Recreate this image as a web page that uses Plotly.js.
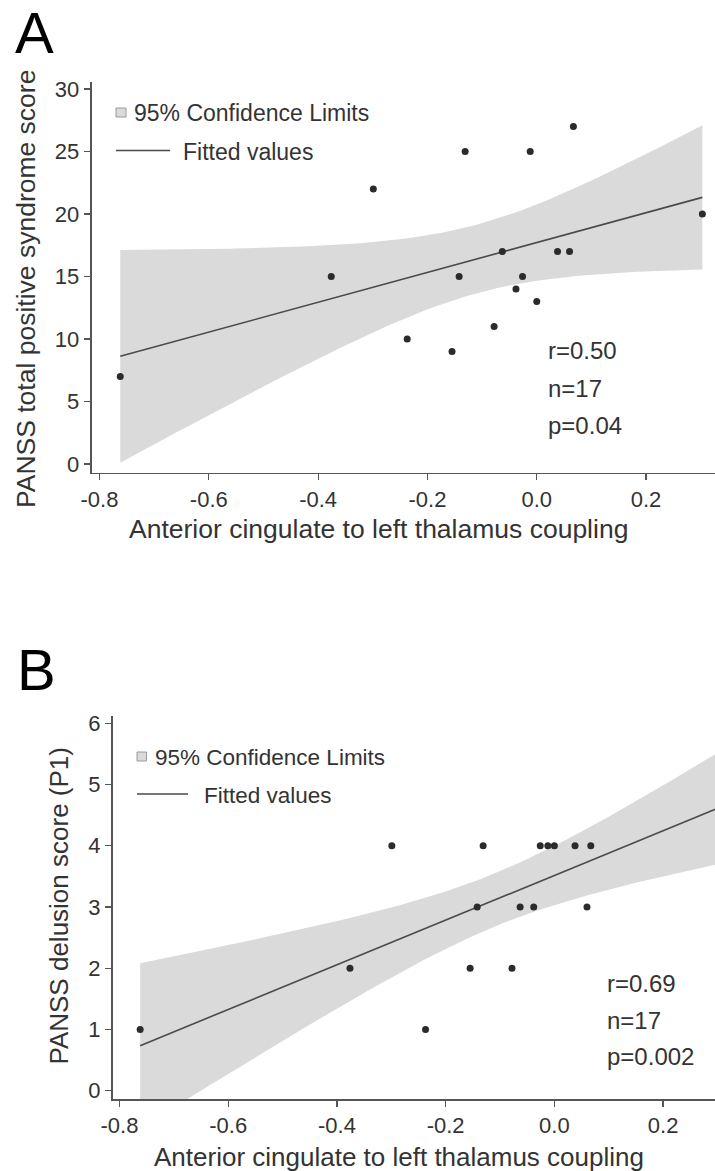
<!DOCTYPE html>
<html>
<head>
<meta charset="utf-8">
<script src="https://cdn.plot.ly/plotly-3.0.1.min.js"></script>
<style>
html,body{margin:0;padding:0;background:#fff;}
#chart{width:715px;height:1171px;}
</style>
</head>
<body>
<div id="chart"></div>
<script>
// ---- Data ----
var coupling = [-0.762, -0.376, -0.299, -0.237, -0.155, -0.142, -0.131, -0.078, -0.063, -0.038, -0.026, -0.012, 0.000, 0.038, 0.060, 0.067, 0.303];
var positiveScore = [7, 15, 22, 10, 9, 15, 25, 11, 17, 14, 15, 25, 13, 17, 17, 27, 20];
var delusionScore = [1, 2, 4, 1, 2, 3, 4, 2, 3, 3, 4, 4, 4, 4, 3, 4, 5];

var xTickVals = [-0.8, -0.6, -0.4, -0.2, 0.0, 0.2];
var xTickText = ["-0.8", "-0.6", "-0.4", "-0.2", "0.0", "0.2"];
var yTickValsA = [0, 5, 10, 15, 20, 25, 30];
var yTickValsB = [0, 1, 2, 3, 4, 5, 6];

var panelLabels = ["A", "B"];
var xTitle = "Anterior cingulate to left thalamus coupling";
var yTitleA = "PANSS total positive syndrome score";
var yTitleB = "PANSS delusion score (P1)";
var legendLabels = ["95% Confidence Limits", "Fitted values"];
var statsA = ["r=0.50", "n=17", "p=0.04"];
var statsB = ["r=0.69", "n=17", "p=0.002"];

// ---- Linear fit with 95% confidence limits of the mean ----
var T_CRIT = 2.131; // t(0.975, df = 15)
function linfit(x, y) {
  var n = x.length, mx = 0, my = 0;
  for (var i = 0; i < n; i++) { mx += x[i]; my += y[i]; }
  mx /= n; my /= n;
  var sxx = 0, sxy = 0;
  for (i = 0; i < n; i++) { sxx += (x[i]-mx)*(x[i]-mx); sxy += (x[i]-mx)*(y[i]-my); }
  var b = sxy / sxx, a = my - b * mx, sse = 0;
  for (i = 0; i < n; i++) { var r = y[i] - (a + b * x[i]); sse += r * r; }
  var s = Math.sqrt(sse / (n - 2));
  var xmin = Math.min.apply(null, x), xmax = Math.max.apply(null, x);
  var xs = [], up = [], lo = [];
  var steps = 80;
  for (i = 0; i <= steps; i++) {
    var xv = xmin + (xmax - xmin) * i / steps;
    var yh = a + b * xv;
    var hw = T_CRIT * s * Math.sqrt(1 / n + (xv - mx) * (xv - mx) / sxx);
    xs.push(xv); up.push(yh + hw); lo.push(yh - hw);
  }
  return {a: a, b: b, xmin: xmin, xmax: xmax, xs: xs, up: up, lo: lo};
}

function fitTraces(x, y, xa, ya) {
  var f = linfit(x, y);
  var bx = f.xs.concat(f.xs.slice().reverse());
  var by = f.up.concat(f.lo.slice().reverse());
  return [
    {type: "scatter", mode: "lines", x: bx, y: by, fill: "toself",
     fillcolor: "#dadada", line: {width: 0, color: "rgba(0,0,0,0)"},
     xaxis: xa, yaxis: ya, hoverinfo: "skip", showlegend: false},
    {type: "scatter", mode: "lines", x: [f.xmin, f.xmax],
     y: [f.a + f.b * f.xmin, f.a + f.b * f.xmax],
     line: {color: "#4a4a4a", width: 1.6}, xaxis: xa, yaxis: ya, showlegend: false},
    {type: "scatter", mode: "markers", x: x, y: y, cliponaxis: true,
     marker: {size: 7, color: "#2b2b2b"}, xaxis: xa, yaxis: ya, showlegend: false}
  ];
}

var data = fitTraces(coupling, positiveScore, "x", "y")
  .concat(fitTraces(coupling, delusionScore, "x2", "y2"));

// ---- Layout helpers (pixel -> paper) ----
var W = 715, H = 1171;
function px(v) { return v / W; }
function py(v) { return 1 - v / H; }

var FONT = "Liberation Sans, Arial, Helvetica, sans-serif";
var TXT = "#333333";
var AX = "#555555";

function xaxisCfg(domain, range, anchor) {
  return {domain: domain, range: range, anchor: anchor,
    tickmode: "array", tickvals: xTickVals, ticktext: xTickText,
    ticks: "outside", ticklen: 6, tickwidth: 1.2, tickcolor: AX,
    showline: true, linecolor: AX, linewidth: 1.8,
    showgrid: false, zeroline: false, fixedrange: true,
    tickfont: {family: FONT, size: 22, color: TXT}};
}
function yaxisCfg(domain, range, anchor, vals) {
  return {domain: domain, range: range, anchor: anchor,
    tickmode: "array", tickvals: vals,
    ticks: "outside", ticklen: 6, tickwidth: 1.2, tickcolor: AX,
    showline: true, linecolor: AX, linewidth: 1.8,
    showgrid: false, zeroline: false, fixedrange: true,
    tickfont: {family: FONT, size: 22, color: TXT}};
}

function txt(text, x, y, size, opts) {
  opts = opts || {};
  return {text: text, x: px(x), y: py(y), xref: "paper", yref: "paper",
    xanchor: opts.xanchor || "left", yanchor: "middle", showarrow: false,
    textangle: opts.angle || 0,
    font: {family: FONT, size: size, color: opts.color || TXT}};
}

var annotations = [
  txt(panelLabels[0], 34, 33, 58, {xanchor: "center", color: "#000"}),
  txt(panelLabels[1], 36, 669, 58, {xanchor: "center", color: "#000"}),
  txt(yTitleA, 26, 289, 26.5, {xanchor: "center", angle: -90}),
  txt(yTitleB, 58, 906.5, 26, {xanchor: "center", angle: -90}),
  txt(xTitle, 378.5, 529, 26.5, {xanchor: "center"}),
  txt(xTitle, 398.6, 1157, 26, {xanchor: "center"}),
  txt(legendLabels[0], 132, 113, 23),
  txt(legendLabels[1], 181, 152, 23),
  txt(legendLabels[0], 153, 757, 22.5),
  txt(legendLabels[1], 202, 795, 22.5),
  txt(statsA[0], 546, 350, 24),
  txt(statsA[1], 546, 388, 24),
  txt(statsA[2], 546, 426, 24),
  txt(statsB[0], 604.5, 983, 24),
  txt(statsB[1], 604.5, 1020, 24),
  txt(statsB[2], 604.5, 1056, 24)
];

var shapes = [
  {type: "rect", xref: "paper", yref: "paper", x0: px(116), x1: px(126), y0: py(117), y1: py(108),
   fillcolor: "#dadada", line: {color: "#9a9a9a", width: 1}},
  {type: "line", xref: "paper", yref: "paper", x0: px(116), x1: px(170), y0: py(150.5), y1: py(150.5),
   line: {color: "#4a4a4a", width: 1.6}},
  {type: "rect", xref: "paper", yref: "paper", x0: px(137), x1: px(146.5), y0: py(761), y1: py(752),
   fillcolor: "#dadada", line: {color: "#9a9a9a", width: 1}},
  {type: "line", xref: "paper", yref: "paper", x0: px(137), x1: px(188), y0: py(794), y1: py(794),
   line: {color: "#4a4a4a", width: 1.6}}
];

var layout = {
  width: W, height: H,
  margin: {l: 0, r: 0, t: 0, b: 0, pad: 0},
  paper_bgcolor: "#ffffff", plot_bgcolor: "#ffffff",
  showlegend: false,
  font: {family: FONT, color: TXT},
  xaxis: xaxisCfg([px(91.5), 1], [-0.8146, 0.3261], "y"),
  yaxis: yaxisCfg([py(472.5), py(81.7)], [-0.68, 30.58], "x", yTickValsA),
  xaxis2: xaxisCfg([px(112.6), 1], [-0.8127, 0.2955], "y2"),
  yaxis2: yaxisCfg([py(1099), py(716)], [-0.1356, 6.119], "x2", yTickValsB),
  annotations: annotations,
  shapes: shapes
};

Plotly.newPlot("chart", data, layout, {displayModeBar: false, staticPlot: true});
</script>
</body>
</html>
